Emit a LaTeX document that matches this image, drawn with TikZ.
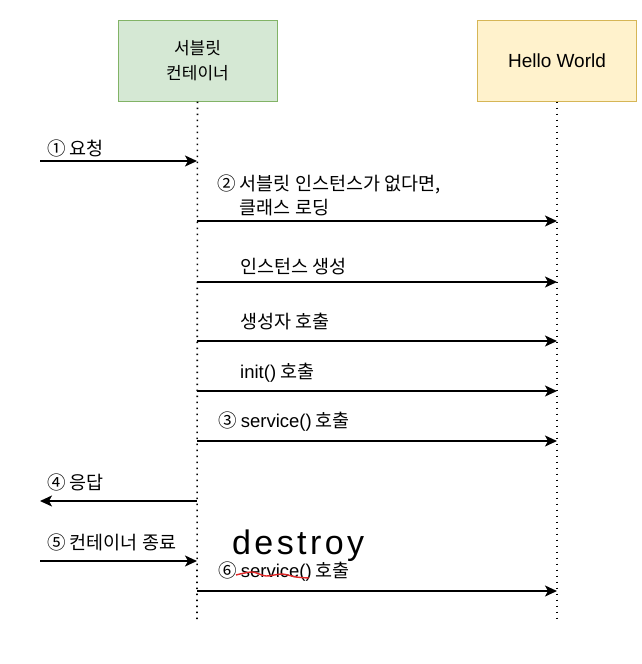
\documentclass[tikz,border=0pt]{standalone}
\usepackage{fontspec}
\setmainfont{Noto Sans CJK KR}
\newfontfamily\latin{Liberation Sans}
\newfontfamily\hand[LetterSpace=10]{Liberation Sans}
\usetikzlibrary{arrows.meta,positioning}
\definecolor{scfill}{HTML}{D5E8D4}
\definecolor{scline}{HTML}{82B366}
\definecolor{hwfill}{HTML}{FFF2CC}
\definecolor{hwline}{HTML}{D6B656}
\definecolor{ink}{RGB}{225,40,40}
\tikzset{
  >={Stealth[length=12pt, width=11pt, inset=3pt]},
  every node/.style={font=\fontsize{18.5}{24}\selectfont, inner sep=0pt},
  actor/.style={draw, line width=1pt, minimum width=159pt, minimum height=81pt, align=center},
  life/.style={line width=1.6pt, dash pattern=on 1.6pt off 4.4pt},
  msg/.style={->, line width=1.5pt},
  lbl/.style={anchor=west, align=left},
}

\begin{document}
\begin{tikzpicture}[x=1pt, y=-1pt]
\useasboundingbox (0,0) rectangle (641,664);

% ---------------------------------------------------------------- actors and lifelines
\node[actor, fill=scfill, draw=scline, font=\fontsize{17}{25}\selectfont] (sc) at (197.5,60.5) {서블릿\\컨테이너};
\node[actor, fill=hwfill, draw=hwline, font=\latin\fontsize{19}{22}\selectfont] (hw) at (557,60.5) {Hello World};
\coordinate (scend) at (197,621);
\coordinate (hwend) at (557,621);
\draw[life] (sc) -- (scend);
\draw[life] (hw) -- (hwend);

% ---------------------------------------------------------------- messages container -> servlet
\foreach \n/\y in {2/221,3/282,4/341,5/391,6/441,9/591} {
  \coordinate (s\n) at (197,\y);
  \coordinate (h\n) at (557,\y);
  \draw[msg] (s\n) -- (h\n);
}

% ---------------------------------------------------------------- messages from / to outside
\foreach \n/\y in {1/161,7/501,8/561} {
  \coordinate (s\n) at (197,\y);
  \coordinate (o\n) at (40,\y);
}
\draw[msg] (o1) -- (s1);
\draw[msg] (s7) -- (o7);
\draw[msg] (o8) -- (s8);

% ---------------------------------------------------------------- labels
\node[lbl] (l1) at (47,148) {① 요청};
\node[lbl] (l2) at (217,195) {② 서블릿 인스턴스가 없다면,\\\phantom{②} 클래스 로딩};
\node[lbl] (l3) at (240,267) {인스턴스 생성};
\node[lbl] (l4) at (240,322) {생성자 호출};
\node[lbl] (l5) at (240,373) {{\latin init()} 호출};
\node[lbl] (l6) at (218,422) {③ {\latin service()} 호출};
\node[lbl] (l7) at (47,482) {④ 응답};
\node[lbl] (l8) at (47,542) {⑤ 컨테이너 종료};
\node[lbl] (l9) at (218,572) {⑥ {\latin service()} 호출};

% ---------------------------------------------------------------- handwritten correction
\node[font=\hand\fontsize{34}{34}\selectfont, anchor=west] (fix) at (232,546) {destroy};
\draw[ink, line width=1.4pt] plot[smooth] coordinates {(236,575) (252,572) (266,576) (282,574) (296,577) (309,578)};

\end{tikzpicture}
\end{document}
